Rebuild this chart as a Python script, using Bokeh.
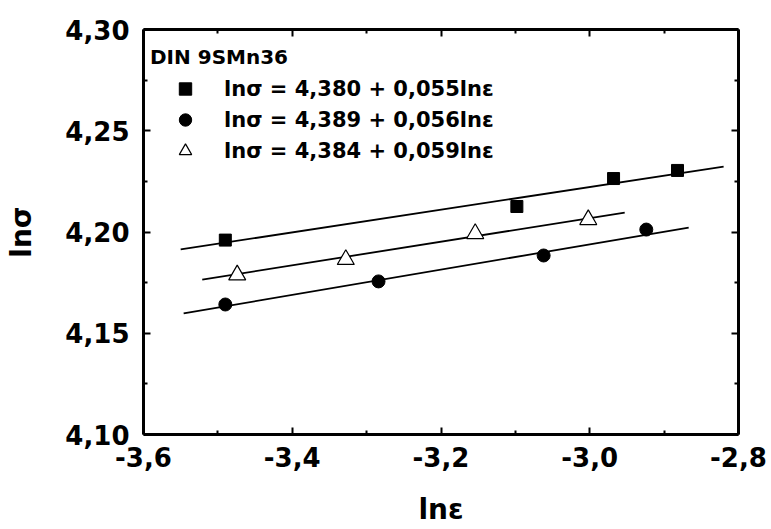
from bokeh.plotting import figure
from bokeh.models import LinearAxis, FixedTicker, Legend, LegendItem, Range1d
from bokeh.embed import file_html
from bokeh.resources import INLINE

# --- data -----------------------------------------------------------------
sq_x = [-3.490, -3.098, -2.968, -2.882]
sq_y = [4.196, 4.2126, 4.2264, 4.2304]

ci_x = [-3.490, -3.284, -3.062, -2.924]
ci_y = [4.1642, 4.1756, 4.1884, 4.2012]

tr_x = [-3.474, -3.328, -3.154, -3.002]
tr_y = [4.1788, 4.1864, 4.1992, 4.2061]

# fitted straight lines (start / end points)
sq_fit_x = [-3.550, -2.820]
sq_fit_y = [4.1914, 4.2323]
ci_fit_x = [-3.546, -2.867]
ci_fit_y = [4.1598, 4.2022]
tr_fit_x = [-3.521, -2.953]
tr_fit_y = [4.1765, 4.2096]

legend_title = "DIN 9SMn36"
legend_labels = ["ln\u03c3 = 4,380 + 0,055ln\u03b5",
                 "ln\u03c3 = 4,389 + 0,056ln\u03b5",
                 "ln\u03c3 = 4,384 + 0,059ln\u03b5"]

x_ticks = [-3.6, -3.4, -3.2, -3.0, -2.8]
x_minor = [-3.5, -3.3, -3.1, -2.9]
x_tick_labels = ["-3,6", "-3,4", "-3,2", "-3,0", "-2,8"]

y_ticks = [4.10, 4.15, 4.20, 4.25, 4.30]
y_minor = [4.125, 4.175, 4.225, 4.275]
y_tick_labels = ["4,10", "4,15", "4,20", "4,25", "4,30"]

x_title = "ln\u03b5"
y_title = "ln\u03c3"

FONT = "DejaVu Sans"

# --- figure ---------------------------------------------------------------
p = figure(width=771, height=529, output_backend="svg", toolbar_location=None,
           x_range=Range1d(-3.6, -2.8), y_range=Range1d(4.10, 4.30),
           x_axis_location=None, y_axis_location=None,
           min_border_left=143, min_border_right=33,
           min_border_top=29, min_border_bottom=95)
p.xgrid.visible = False
p.ygrid.visible = False
p.outline_line_color = None
p.background_fill_color = "white"
p.border_fill_color = "white"


def style_axis(ax, ticks, minor, labels, show_labels):
    ax.ticker = FixedTicker(ticks=ticks, minor_ticks=minor)
    if show_labels:
        ax.major_label_overrides = dict(zip(ticks, labels))
    else:
        ax.major_label_overrides = {t: "" for t in ticks}
    ax.axis_line_width = 3
    ax.axis_line_color = "black"
    ax.major_tick_in = 7
    ax.major_tick_out = 0
    ax.minor_tick_in = 4
    ax.minor_tick_out = 0
    ax.major_tick_line_width = 2
    ax.minor_tick_line_width = 2
    ax.major_label_text_font = FONT
    ax.major_label_text_font_style = "bold"
    ax.major_label_text_font_size = "26px"
    ax.major_label_text_color = "black"
    ax.axis_label_text_font = FONT
    ax.axis_label_text_font_style = "bold"
    ax.axis_label_text_font_size = "28px"
    ax.axis_label_text_color = "black"


xb = LinearAxis()
style_axis(xb, x_ticks, x_minor, x_tick_labels, True)
xb.major_label_standoff = 12
xb.axis_label = x_title
xb.axis_label_standoff = 23
p.add_layout(xb, "below")

yl = LinearAxis()
style_axis(yl, y_ticks, y_minor, y_tick_labels, True)
yl.major_label_standoff = 14
yl.axis_label = y_title
yl.axis_label_standoff = 24
p.add_layout(yl, "left")

xt = LinearAxis()
style_axis(xt, x_ticks, x_minor, x_tick_labels, False)
p.add_layout(xt, "above")

yr = LinearAxis()
style_axis(yr, y_ticks, y_minor, y_tick_labels, False)
p.add_layout(yr, "right")

# --- fitted lines ---------------------------------------------------------
for fx, fy in [(sq_fit_x, sq_fit_y), (ci_fit_x, ci_fit_y), (tr_fit_x, tr_fit_y)]:
    p.line(fx, fy, line_color="black", line_width=1.8)

# --- measured points ------------------------------------------------------
r_sq = p.scatter(sq_x, sq_y, marker="square", size=12,
                 fill_color="black", line_color="black")
r_ci = p.scatter(ci_x, ci_y, marker="circle", size=13,
                 fill_color="black", line_color="black")
r_tr = p.scatter(tr_x, tr_y, marker="triangle", size=17,
                 fill_color="white", line_color="black", line_width=1.2)

legend = Legend(items=[LegendItem(label=legend_labels[0], renderers=[r_sq]),
                       LegendItem(label=legend_labels[1], renderers=[r_ci]),
                       LegendItem(label=legend_labels[2], renderers=[r_tr])],
                location=(7, 268))
legend.title = legend_title
legend.title_text_font = FONT
legend.title_text_font_style = "bold"
legend.title_text_font_size = "20px"
legend.title_text_color = "black"
legend.title_standoff = 4
legend.label_text_font = FONT
legend.label_text_font_style = "bold"
legend.label_text_font_size = "21px"
legend.label_text_color = "black"
legend.glyph_width = 70
legend.glyph_height = 31
legend.label_height = 31
legend.label_standoff = 4
legend.spacing = 0
legend.padding = 0
legend.margin = 0
legend.border_line_color = None
legend.background_fill_alpha = 0
p.add_layout(legend, "center")

open("out.html", "w").write(file_html(p, INLINE))
